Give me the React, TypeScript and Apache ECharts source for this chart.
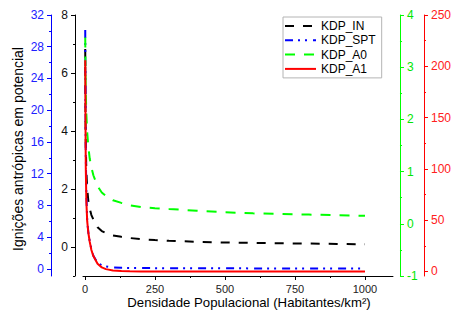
import React, { useEffect, useRef } from "react";
import * as echarts from "echarts";

const xs = [1, 2, 3, 5, 8, 12, 17, 23, 30, 45, 60, 75, 100, 130, 160, 200, 250, 300, 400, 500, 600, 700, 800, 900, 1000];
const kdpIn = [6.83, 4.5, 3.5, 2.6, 2.0, 1.6, 1.33, 1.1, 0.95, 0.68, 0.55, 0.48, 0.4, 0.35, 0.31, 0.27, 0.24, 0.215, 0.18, 0.155, 0.14, 0.128, 0.12, 0.105, 0.095];
const kdpSpt = [30.1, 20, 14.5, 9.5, 6.1, 4.6, 3.5, 2.5, 1.65, 0.76, 0.45, 0.3, 0.18, 0.13, 0.11, 0.1, 0.09, 0.08, 0.07, 0.065, 0.06, 0.058, 0.055, 0.052, 0.05];
const kdpA0 = [3.57, 2.9, 2.5, 2.1, 1.75, 1.48, 1.25, 1.08, 0.93, 0.72, 0.6, 0.53, 0.45, 0.4, 0.355, 0.32, 0.3, 0.283, 0.25, 0.22, 0.2, 0.188, 0.177, 0.163, 0.152];
const kdpA1 = [206, 140, 100, 68, 49, 38, 29, 21, 15, 7.5, 4, 2.3, 0.9, 0.4, 0.2, 0.1, 0.07, 0.05, 0.04, 0.03, 0.03, 0.02, 0.02, 0.02, 0.02];

const seriesNames = ["KDP_IN", "KDP_SPT", "KDP_A0", "KDP_A1"];

const xMajor = [0, 250, 500, 750, 1000];
const xMinor = [125, 375, 625, 875];
const blackMajor = [0, 2, 4, 6, 8];
const blackMinor = [-1, 1, 3, 5, 7];
const blueMajor = [0, 4, 8, 12, 16, 20, 24, 28, 32];
const blueMinor = [2, 6, 10, 14, 18, 22, 26, 30];
const greenMajor = [-1, 0, 1, 2, 3, 4];
const greenMinor = [-0.5, 0.5, 1.5, 2.5, 3.5];
const redMajor = [0, 50, 100, 150, 200, 250];
const redMinor = [25, 75, 125, 175, 225];

const FONT = "Arial";

function yPair(
  min: number,
  max: number,
  major: number[],
  minor: number[],
  color: string,
  labelColor: string,
  position: string,
  offset: number
) {
  const main = {
    type: "value",
    position,
    offset,
    min,
    max,
    splitLine: { show: false },
    axisLine: { show: true, onZero: false, lineStyle: { color, width: 1 } },
    axisTick: { show: true, customValues: major, length: 4, lineStyle: { color } },
    axisLabel: {
      show: true,
      customValues: major,
      color: labelColor,
      fontSize: 12,
      fontFamily: FONT,
      margin: 7,
      formatter: (v: number) => String(v),
    },
  };
  const minorAx = {
    type: "value",
    position,
    offset,
    min,
    max,
    splitLine: { show: false },
    axisLine: { show: false, onZero: false },
    axisTick: { show: true, customValues: minor, length: 2, lineStyle: { color } },
    axisLabel: { show: false },
  };
  return [main, minorAx];
}

export default function App() {
  const ref = useRef<HTMLDivElement>(null);
  useEffect(() => {
    if (!ref.current) return;
    const chart = echarts.init(ref.current, null, { renderer: "svg" });
    const black = yPair(-1, 8, blackMajor, blackMinor, "#000000", "#111111", "left", 8);
    const blue = yPair(-0.9, 32, blueMajor, blueMinor, "#0000ff", "#2020ff", "left", 32);
    const green = yPair(-1, 4, greenMajor, greenMinor, "#00ff00", "#00e600", "right", 7);
    const red = yPair(-4.4, 250, redMajor, redMinor, "#ff0000", "#ff2020", "right", 31);
    const yAxis = [...black, ...blue, ...green, ...red];

    const mk = (vals: number[]) => xs.map((x, i) => [x, vals[i]]);
    const lineBase = { type: "line", symbol: "none", showSymbol: false, smooth: false, xAxisIndex: 0 };

    chart.setOption({
      animation: false,
      textStyle: { fontFamily: FONT },
      grid: { left: 83, top: 15, width: 310, height: 261, containLabel: false },
      xAxis: [
        {
          type: "value",
          min: -7,
          max: 1100,
          splitLine: { show: false },
          axisLine: { show: true, onZero: false, lineStyle: { color: "#000", width: 1 } },
          axisTick: { show: true, customValues: xMajor, length: 4, lineStyle: { color: "#000" } },
          axisLabel: {
            show: true,
            customValues: xMajor,
            color: "#222",
            fontSize: 11,
            fontFamily: FONT,
            margin: 7,
            formatter: (v: number) => String(v),
          },
        },
        {
          type: "value",
          min: -7,
          max: 1100,
          position: "bottom",
          splitLine: { show: false },
          axisLine: { show: false, onZero: false },
          axisTick: { show: true, customValues: xMinor, length: 2, lineStyle: { color: "#000" } },
          axisLabel: { show: false },
        },
      ],
      yAxis,
      legend: {
        orient: "vertical",
        left: 283,
        top: 17,
        padding: [3, 6, 3, 1],
        itemWidth: 31,
        itemHeight: 14,
        itemGap: 2.3,
        itemTextGap: 4,
        backgroundColor: "#ffffff",
        borderColor: "#b4b4b4",
        borderWidth: 1,
        itemStyle: { opacity: 0 },
        textStyle: { color: "#000", fontSize: 12, fontFamily: FONT },
        data: seriesNames,
      },
      series: [
        {
          ...lineBase,
          name: seriesNames[0],
          yAxisIndex: 0,
          data: mk(kdpIn),
          lineStyle: { color: "#000000", width: 2, type: [9, 9] },
          itemStyle: { color: "#000000" },
        },
        {
          ...lineBase,
          name: seriesNames[1],
          yAxisIndex: 2,
          data: mk(kdpSpt),
          lineStyle: { color: "#0000ff", width: 2, type: [8, 5, 2, 5, 2, 6] },
          itemStyle: { color: "#0000ff" },
        },
        {
          ...lineBase,
          name: seriesNames[2],
          yAxisIndex: 4,
          data: mk(kdpA0),
          lineStyle: { color: "#00ff00", width: 2, type: [10, 9] },
          itemStyle: { color: "#00ff00" },
        },
        {
          ...lineBase,
          name: seriesNames[3],
          yAxisIndex: 6,
          data: mk(kdpA1),
          lineStyle: { color: "#ff0000", width: 2, type: "solid" },
          itemStyle: { color: "#ff0000" },
        },
      ],
      graphic: [
        {
          type: "text",
          x: 18,
          y: 149,
          rotation: Math.PI / 2,
          style: {
            text: "Ignições antrópicas em potencial",
            fontSize: 14,
            fontFamily: FONT,
            fill: "#000",
            align: "center",
            verticalAlign: "middle",
          },
        },
        {
          type: "text",
          x: 249,
          y: 302,
          style: {
            text: "Densidade Populacional (Habitantes/km²)",
            fontSize: 13.2,
            fontFamily: FONT,
            fill: "#000",
            align: "center",
            verticalAlign: "middle",
          },
        },
      ],
    });
    return () => chart.dispose();
  }, []);
  return (
    <div
      ref={ref}
      style={{ position: "absolute", left: 0, top: 0, width: 454, height: 321, background: "#fff" }}
    />
  );
}
